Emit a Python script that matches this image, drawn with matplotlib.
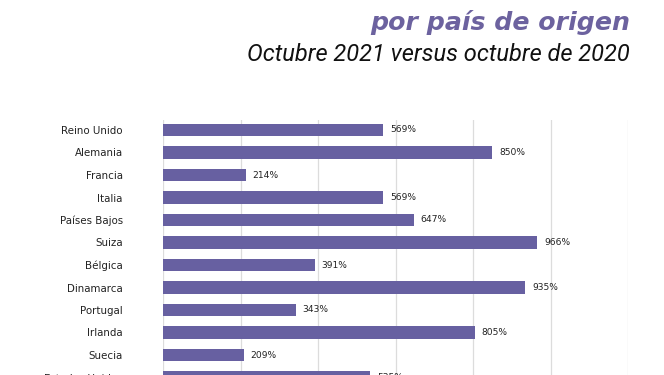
import matplotlib
matplotlib.use("Agg")
import matplotlib.pyplot as plt

categories = ["Reino Unido", "Alemania", "Francia", "Italia", "Países Bajos", "Suiza",
              "Bélgica", "Dinamarca", "Portugal", "Irlanda", "Suecia", "Estados Unidos"]
values = [569, 850, 214, 569, 647, 966, 391, 935, 343, 805, 209, 535]
value_labels = ["569%", "850%", "214%", "569%", "647%", "966%", "391%", "935%",
                "343%", "805%", "209%", "535%"]
x_ticks = [0, 200, 400, 600, 800, 1000, 1200]

title = "por país de origen"
subtitle = "Octubre 2021 versus octubre de 2020"

bar_color = "#6760a1"
title_color = "#6c629f"

W, H = 664, 375
fig = plt.figure(figsize=(W / 100, H / 100), dpi=100)
fig.patch.set_facecolor("white")

# axes in pixel terms: x 163..628, y top 120, rows every 22.5 px starting at 130
x0, x1 = 163, 628
top_px = 120
row0 = 130
step = 22.5
ymin_idx = (top_px - row0) / step
ymax_idx = 12.0
bottom_px = row0 + step * ymax_idx
ax = fig.add_axes([x0 / W, (H - bottom_px) / H, (x1 - x0) / W, (bottom_px - top_px) / H])

pos = list(range(len(categories)))
ax.barh(pos, values, height=0.54, color=bar_color, zorder=3)
for p, v, lab in zip(pos, values, value_labels):
    ax.text(v + 17, p, lab, va="center", ha="left", fontsize=6.6, color="#222222", zorder=4)

ax.set_xlim(0, 1200)
ax.set_ylim(ymax_idx, ymin_idx)
ax.set_xticks(x_ticks)
ax.set_xticklabels([])
ax.tick_params(axis="x", length=0)
ax.set_yticks(pos)
ax.set_yticklabels(categories, fontsize=7.4, color="#222222")
ax.tick_params(axis="y", length=0, pad=29)
ax.grid(axis="x", color="#dcdcdc", linewidth=0.9, zorder=0)
for s in ax.spines.values():
    s.set_visible(False)

fig.text(630 / W, 1 - 30 / H, title, ha="right", va="baseline", fontsize=18.2,
         fontweight="bold", fontstyle="italic", color=title_color,
         family=["DejaVu Sans"])
fig.text(630 / W, 1 - 61 / H, subtitle, ha="right", va="baseline", fontsize=17,
         fontstyle="italic", color="#111111", family=["Roboto", "DejaVu Sans"])

fig.savefig("out.png", dpi=100, facecolor="white")
